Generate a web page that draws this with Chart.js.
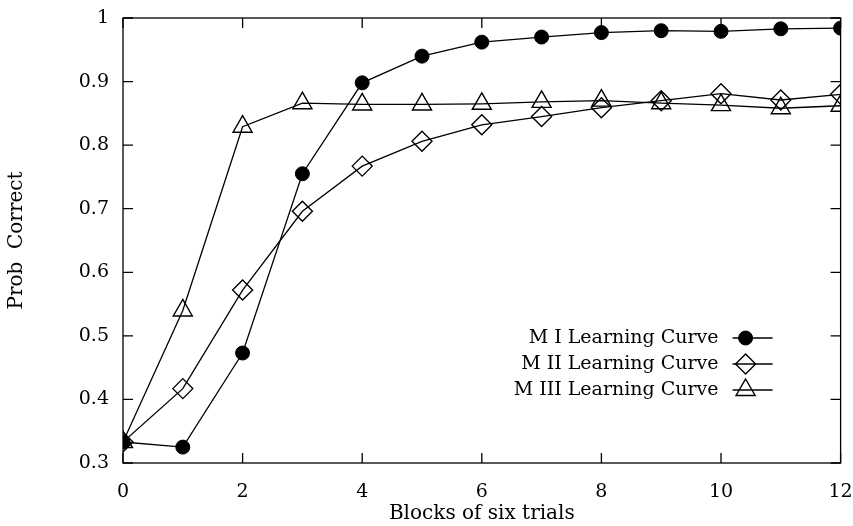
<!DOCTYPE html>
<html>
<head>
<meta charset="utf-8">
<script src="https://cdn.jsdelivr.net/npm/chart.js@4/dist/chart.umd.min.js"></script>
<style>
  html, body { margin: 0; padding: 0; background: #fff; }
  #wrap { width: 853px; height: 526px; }
</style>
</head>
<body>
<div id="wrap"><canvas id="curveChart" width="853" height="526"></canvas></div>
<script>
// blocks of six trials (x axis)
var blocks = [0, 1, 2, 3, 4, 5, 6, 7, 8, 9, 10, 11, 12];
var xTicks = [0, 2, 4, 6, 8, 10, 12];
var yTicks = [0.3, 0.4, 0.5, 0.6, 0.7, 0.8, 0.9, 1];

// probability correct per block
var model1 = [0.333, 0.325, 0.473, 0.755, 0.898, 0.940, 0.962, 0.970, 0.977, 0.980, 0.979, 0.983, 0.984];
var model2 = [0.333, 0.417, 0.572, 0.696, 0.767, 0.806, 0.832, 0.845, 0.859, 0.870, 0.881, 0.871, 0.880];
var model3 = [0.333, 0.540, 0.829, 0.866, 0.864, 0.864, 0.865, 0.868, 0.870, 0.866, 0.863, 0.858, 0.862];

var seriesNames = ["M I Learning Curve", "M II Learning Curve", "M III Learning Curve"];

var serif = "'DejaVu Serif', 'Liberation Serif', serif";

function toPoints(vals){
	var pts = [];
	for(let i=0; i<vals.length; i++){
		pts.push({x: blocks[i], y: vals[i]});
	}
	return pts;
}

// inward tick marks on all four sides + frame + legend with marker on the right
var framePlugin = {
	id: "frame",
	afterDraw: function(chart){
		var ctx = chart.ctx;
		var a = chart.chartArea;
		var xs = chart.scales.x, ys = chart.scales.y;
		ctx.save();
		ctx.strokeStyle = "#000";
		ctx.lineWidth = 1.3;
		ctx.strokeRect(a.left, a.top, a.right - a.left, a.bottom - a.top);
		ctx.beginPath();
		xTicks.forEach(function(v){
			var px = xs.getPixelForValue(v);
			ctx.moveTo(px, a.bottom); ctx.lineTo(px, a.bottom - 10);
			ctx.moveTo(px, a.top); ctx.lineTo(px, a.top + 10);
		});
		yTicks.forEach(function(v){
			var py = ys.getPixelForValue(v);
			ctx.moveTo(a.left, py); ctx.lineTo(a.left + 10, py);
			ctx.moveTo(a.right, py); ctx.lineTo(a.right - 10, py);
		});
		ctx.stroke();

		// legend
		ctx.font = "19px " + serif;
		ctx.textAlign = "right";
		ctx.textBaseline = "middle";
		var symX = a.right - 95;
		chart.data.datasets.forEach(function(ds, i){
			var ly = a.top + 320 + i * 26;
			ctx.fillStyle = "#000";
			ctx.fillText(ds.label, symX - 27, ly);
			ctx.beginPath();
			ctx.lineWidth = 1.3;
			ctx.moveTo(symX - 13, ly); ctx.lineTo(symX + 27, ly);
			ctx.stroke();
			ctx.fillStyle = ds.pointBackgroundColor;
			ctx.lineWidth = ds.pointBorderWidth;
			Chart.helpers.drawPoint(ctx, {
				pointStyle: ds.pointStyle,
				radius: ds.pointRadius,
				borderWidth: ds.pointBorderWidth
			}, symX, ly);
		});
		ctx.restore();
	}
};

new Chart(document.getElementById("curveChart"), {
	type: "line",
	data: {
		datasets: [{
			label: seriesNames[0],
			data: toPoints(model1),
			borderColor: "#000",
			borderWidth: 1.3,
			pointStyle: "circle",
			pointRadius: 7,
			pointBorderWidth: 1,
			pointBorderColor: "#000",
			pointBackgroundColor: "#000",
			fill: false
		}, {
			label: seriesNames[1],
			data: toPoints(model2),
			borderColor: "#000",
			borderWidth: 1.3,
			pointStyle: "rectRot",
			pointRadius: 10,
			pointBorderWidth: 1.4,
			pointBorderColor: "#000",
			pointBackgroundColor: "rgba(0,0,0,0)",
			fill: false
		}, {
			label: seriesNames[2],
			data: toPoints(model3),
			borderColor: "#000",
			borderWidth: 1.3,
			pointStyle: "triangle",
			pointRadius: 11,
			pointBorderWidth: 1.4,
			pointBorderColor: "#000",
			pointBackgroundColor: "rgba(0,0,0,0)",
			fill: false
		}]
	},
	options: {
		responsive: false,
		animation: false,
		layout: { padding: { top: 18, right: 12, left: 0, bottom: 0 } },
		plugins: {
			legend: { display: false },
			tooltip: { enabled: false }
		},
		scales: {
			x: {
				type: "linear",
				min: 0, max: 12,
				afterBuildTicks: function(s){ s.ticks = xTicks.map(function(v){ return {value: v}; }); },
				afterFit: function(s){ s.height = 63; s.paddingLeft = 0; s.paddingRight = 0; },
				grid: { display: false, drawTicks: false },
				border: { display: false },
				ticks: { color: "#000", padding: 18, font: { family: serif, size: 19 }, maxRotation: 0 },
				title: { display: true, text: "Blocks of six trials", color: "#000", padding: { top: 0, bottom: 0 }, font: { family: serif, size: 20 } }
			},
			y: {
				type: "linear",
				min: 0.3, max: 1,
				afterBuildTicks: function(s){ s.ticks = yTicks.map(function(v){ return {value: v}; }); },
				afterFit: function(s){ s.width = 123; s.paddingTop = 0; s.paddingBottom = 0; },
				grid: { display: false, drawTicks: false },
				border: { display: false },
				ticks: {
					color: "#000", padding: 14, font: { family: serif, size: 19 },
					callback: function(v){ return String(Math.round(v * 10) / 10); }
				},
				title: { display: true, text: "Prob  Correct", color: "#000", padding: { top: 5, bottom: 10 }, font: { family: serif, size: 20 } }
			}
		}
	},
	plugins: [framePlugin]
});
</script>
</body>
</html>
